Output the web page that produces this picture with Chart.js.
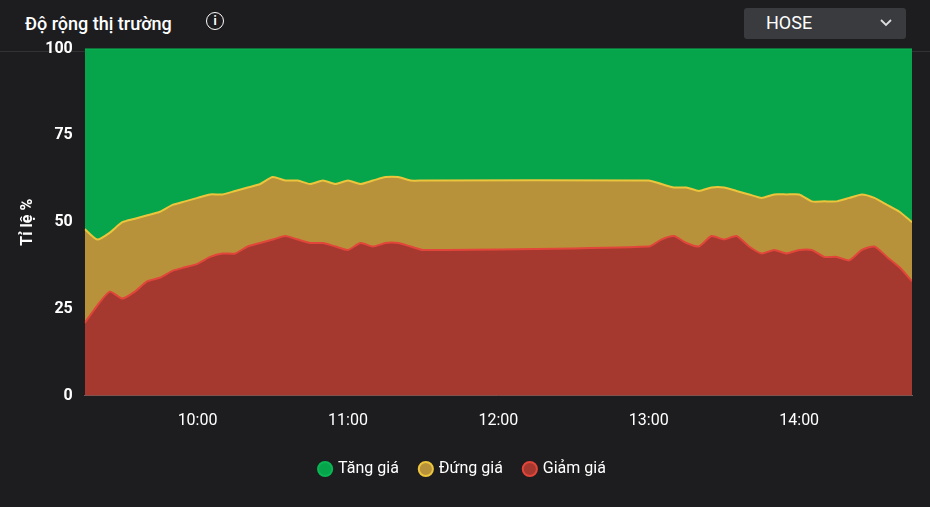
<!DOCTYPE html>
<html><head><meta charset="utf-8">
<script src="https://cdn.jsdelivr.net/npm/chart.js@4"></script>
<style>
body{margin:0;background:#1d1d1f;font-family:Roboto,"Noto Sans",sans-serif;width:930px;height:507px;overflow:hidden;position:relative}
#hdr{position:absolute;left:25px;top:13px;color:#fff;font-size:18px;font-weight:500}
#info{position:absolute;left:206px;top:12px;width:18px;height:18px;border:1.6px solid #fff;border-radius:50%;color:#fff;font-size:12px;font-weight:bold;text-align:center;line-height:16px;box-sizing:border-box}
#sel{position:absolute;left:744px;top:8px;width:162px;height:31px;background:#3a3b3f;border-radius:3px;color:#fff;font-size:18px;box-sizing:border-box;padding:4px 0 0 22px}
#sel svg{position:absolute;right:14px;top:11px}
#sep{position:absolute;left:0;top:51px;width:930px;height:1px;background:#333}
#wrap{position:absolute;left:0;top:35px;width:930px;height:472px}
</style></head><body>
<div id="hdr">Độ rộng thị trường</div><div id="info">i</div>
<div id="sel">HOSE<svg width="12" height="8" viewBox="0 0 12 8"><path d="M1 1 L6 6 L11 1" stroke="#ddd" stroke-width="1.8" fill="none"/></svg></div><div id="sep"></div>
<div id="wrap"><canvas id="c"></canvas></div>
<script>
const times=["09:15","09:20","09:25","09:30","09:35","09:40","09:45","09:50","09:55","10:00","10:05","10:10","10:15","10:20","10:25","10:30","10:35","10:40","10:45","10:50","10:55","11:00","11:05","11:10","11:15","11:20","11:25","11:30",
"13:00","13:05","13:10","13:15","13:20","13:25","13:30","13:35","13:40","13:45","13:50","13:55","14:00","14:05","14:10","14:15","14:20","14:25","14:30","14:35","14:40","14:45"];
const giamGia=[21,26,30,28,30,33,34,36,37,38,40,41,41,43,44,45,46,45,44,44,43,42,44,43,44,44,43,42,
43,45,46,44,43,46,45,46,43,41,42,41,42,42,40,40,39,42,43,40,37,33];
const dungGia=[27,19,17,22,21,19,19,19,19,19,18,17,18,17,17,18,16,17,17,18,18,20,17,19,19,19,19,20,
19,16,14,16,16,14,15,13,15,16,16,17,16,14,16,16,18,16,14,15,16,17];
const tangGia=[52,55,53,50,49,48,47,45,44,43,42,42,41,40,39,37,38,38,39,38,39,38,39,38,37,37,38,38,
38,39,40,40,41,40,40,41,42,43,42,42,42,44,44,44,43,42,43,45,47,50];
const xTicks=["10:00","11:00","12:00","13:00","14:00"];
const yTicks=[0,25,50,75,100];
const toMin=s=>{const [h,m]=s.split(":").map(Number);return h*60+m;};
const fmt=v=>String(Math.floor(v/60)).padStart(2,"0")+":"+String(v%60).padStart(2,"0");
const pts=a=>a.map((v,i)=>({x:toMin(times[i]),y:v}));
new Chart(document.getElementById('c'),{type:'line',
data:{datasets:[
{label:'Giảm giá',data:pts(giamGia),borderColor:'#e2453a',backgroundColor:'#a5392f',fill:'origin',pointRadius:0,borderWidth:2,tension:0.2},
{label:'Đứng giá',data:pts(dungGia),borderColor:'#ecc53c',backgroundColor:'#b8923a',fill:'-1',pointRadius:0,borderWidth:2,tension:0.2},
{label:'Tăng giá',data:pts(tangGia),borderColor:'#0ab653',backgroundColor:'#06a54c',fill:'-1',pointRadius:0,borderWidth:2,tension:0.2}
]},
options:{responsive:true,maintainAspectRatio:false,animation:false,
layout:{padding:{left:14,right:18,top:6,bottom:20}},
plugins:{legend:{position:'bottom',reverse:true,labels:{color:'#fff',font:{size:16,family:'Roboto'},usePointStyle:true,pointStyle:'circle',boxWidth:10,boxHeight:10,padding:22}},tooltip:{enabled:false}},
scales:{
x:{type:'linear',min:toMin("09:15"),max:toMin("14:45"),
afterBuildTicks:ax=>{ax.ticks=xTicks.map(t=>({value:toMin(t)}));},
ticks:{color:'#fff',font:{size:16,family:'Roboto'},callback:v=>fmt(v),padding:8},
grid:{display:false},border:{color:'#666'}},
y:{stacked:true,min:0,max:100,
afterBuildTicks:ax=>{ax.ticks=yTicks.map(v=>({value:v}));},
ticks:{color:'#fff',font:{size:16,weight:'bold',family:'Roboto'},padding:4},
grid:{display:false},border:{display:false},
title:{display:true,text:'Tỉ lệ %',color:'#fff',font:{size:16,weight:'bold',family:'Roboto'}}}
}}});
</script></body></html>
